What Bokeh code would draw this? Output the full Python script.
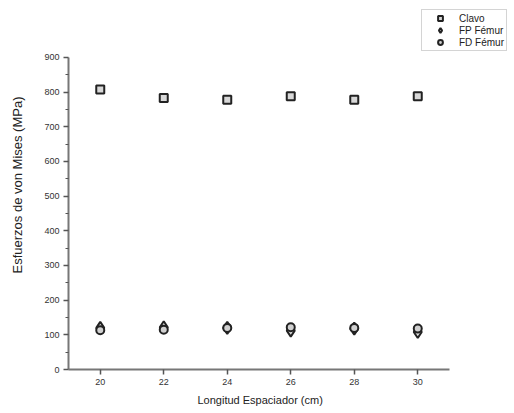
from bokeh.plotting import figure
from bokeh.models import Legend, LegendItem, FixedTicker, ColumnDataSource, Title
from bokeh.embed import file_html
from bokeh.resources import INLINE

longitud = [20, 22, 24, 26, 28, 30]
clavo = [808, 783, 778, 788, 778, 788]
fp_femur = [120, 122, 120, 112, 118, 108]
fd_femur = [113, 115, 120, 122, 120, 118]
x_ticks = [20, 22, 24, 26, 28, 30]
y_ticks = [0, 100, 200, 300, 400, 500, 600, 700, 800, 900]

FONT = "Liberation Sans"

# frame spans to top/right edges so the legend (outside the axes box) is visible;
# axis lines are bounded to the data box
p = figure(width=514, height=413, x_range=(19, 33.047), y_range=(0, 1064.4),
           output_backend="svg", toolbar_location=None,
           min_border_left=68, min_border_top=0, min_border_right=0, min_border_bottom=44)
p.outline_line_color = None
p.xgrid.visible = False
p.ygrid.visible = False

src = ColumnDataSource(dict(x=longitud, c=clavo, fp=fp_femur, fd=fd_femur))
r1 = p.scatter("x", "c", source=src, marker="square", size=8, fill_color="#d8d8d8",
               line_color="#222222", line_width=2)
r2 = p.scatter("x", "fp", source=src, marker="diamond", size=12, fill_color="#e0e0e0",
               line_color="#222222", line_width=2)
r3 = p.scatter("x", "fd", source=src, marker="circle", size=8, fill_color="#d0d0d0",
               line_color="#222222", line_width=2)

for ax in (p.xaxis[0], p.yaxis[0]):
    ax.axis_line_color = "#777777"
    ax.axis_line_width = 2
    ax.major_tick_line_color = "#555555"
    ax.minor_tick_line_color = "#555555"
    ax.major_tick_line_width = 1.5
    ax.major_tick_out = 5
    ax.major_tick_in = 0
    ax.major_label_text_font = FONT
    ax.major_label_text_font_size = "9px"
    ax.major_label_text_color = "#333333"
    ax.axis_label_text_font = FONT
    ax.axis_label_text_font_style = "normal"
    ax.axis_label_text_color = "#222222"

p.xaxis.bounds = (19, 31)
p.yaxis.bounds = (0, 900)
p.xaxis.ticker = FixedTicker(ticks=x_ticks)
p.xaxis.minor_tick_line_color = None
p.yaxis.ticker = FixedTicker(ticks=y_ticks, minor_ticks=[v + 50 for v in y_ticks[:-1]])
p.yaxis.minor_tick_out = 3
p.yaxis.minor_tick_in = 0
p.xaxis.major_label_standoff = 4
p.yaxis.major_label_standoff = 4
p.yaxis.axis_label = "Esfuerzos de von Mises (MPa)"
p.yaxis.axis_label_text_font_size = "13px"
p.yaxis.axis_label_standoff = 16

# x-axis title centred under the bounded axis line
xt = Title(text="Longitud Espaciador (cm)", align="left", offset=129,
           text_font=FONT, text_font_size="11px", text_font_style="normal",
           text_color="#222222", standoff=8)
p.add_layout(xt, "below")

legend = Legend(items=[
    LegendItem(label="Clavo", renderers=[r1]),
    LegendItem(label="FP Fémur", renderers=[r2]),
    LegendItem(label="FD Fémur", renderers=[r3]),
], location=(353, 318))
legend.glyph_height = 12
legend.glyph_width = 32
legend.label_height = 12
legend.spacing = 0
legend.padding = 2
legend.margin = 0
legend.label_standoff = 3
legend.label_text_font = FONT
legend.label_text_font_size = "10px"
legend.label_text_color = "#222222"
legend.border_line_color = "#aaaaaa"
legend.border_line_width = 1
legend.background_fill_color = "white"
p.add_layout(legend, "center")

open("out.html", "w").write(file_html(p, INLINE))
